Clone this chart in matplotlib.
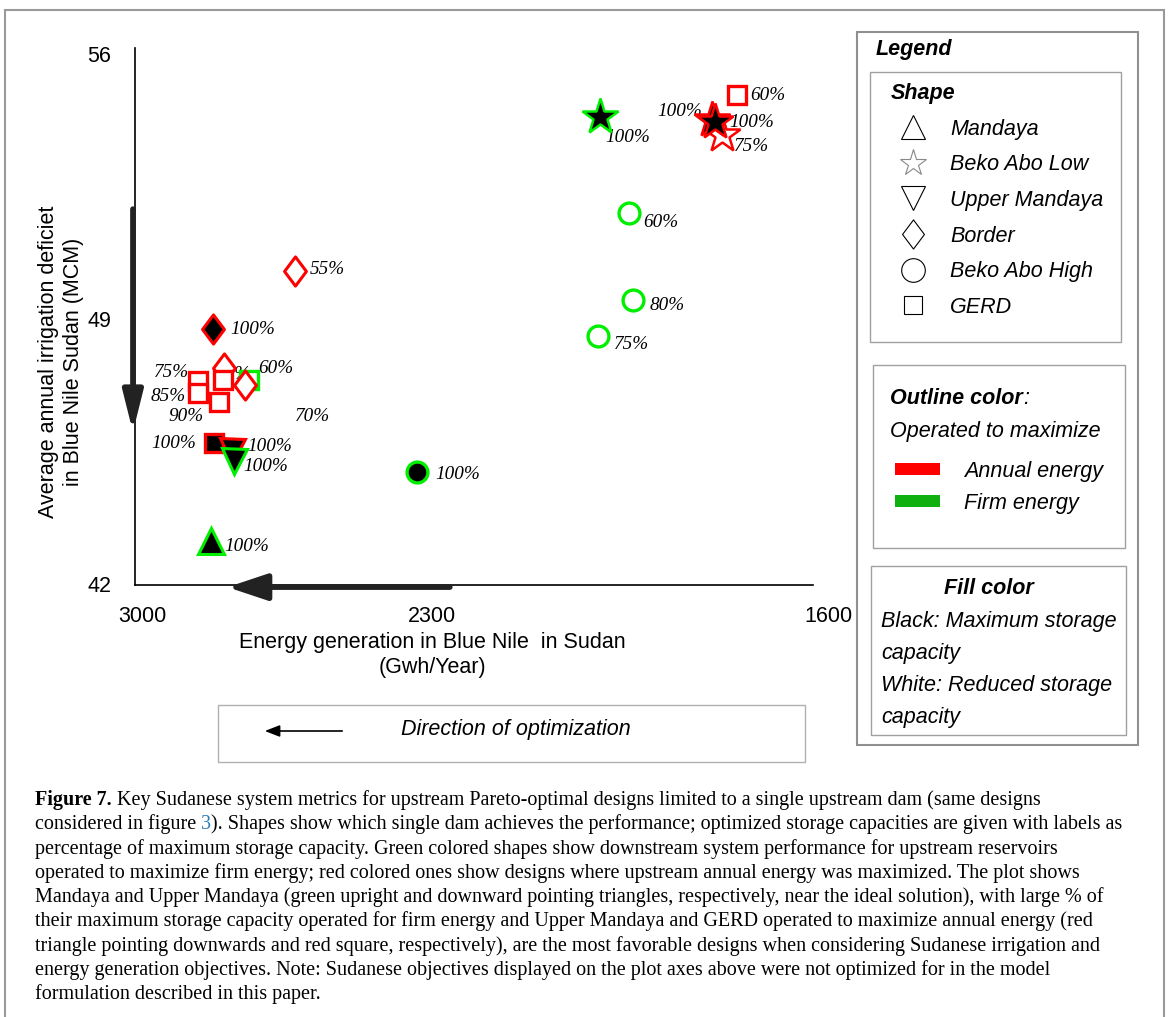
import matplotlib
matplotlib.use('Agg')
import matplotlib.pyplot as plt
from matplotlib.lines import Line2D
from matplotlib.patches import Rectangle, Patch, FancyArrowPatch
from matplotlib.path import Path

# designs: energy (GWh/yr), irrigation deficit (MCM), dam, operation, fill, storage label
energy  = [2040, 1788, 1809, 1802, 1757, 1980, 1972, 2044, 2418, 2670, 2839,
           2816, 2870, 2870, 2818, 2827, 2765, 2773, 2837, 2800, 2796, 2843]
deficit = [54.34, 53.86, 54.25, 54.20, 54.92, 51.80, 49.50, 48.55, 44.96, 50.27, 48.74,
           47.71, 47.36, 47.05, 47.39, 46.81, 47.39, 47.26, 45.73, 45.51, 45.25, 43.14]
dam     = ['BekoLow', 'BekoLow', 'BekoLow', 'BekoLow', 'GERD', 'BekoHigh', 'BekoHigh',
           'BekoHigh', 'BekoHigh', 'Border', 'Border', 'Border', 'GERD', 'GERD', 'GERD',
           'GERD', 'GERD', 'Border', 'GERD', 'UpperMandaya', 'UpperMandaya', 'Mandaya']
operated = ['firm', 'annual', 'annual', 'annual', 'annual', 'firm', 'firm', 'firm', 'firm',
            'annual', 'annual', 'annual', 'annual', 'annual', 'annual', 'annual', 'firm',
            'annual', 'annual', 'annual', 'firm', 'firm']
full    = [True, False, True, True, False, False, False, False, True, False, True,
           False, False, False, False, False, False, False, True, True, True, True]
pct     = ['100%', '75%', '100%', '100%', '60%', '60%', '80%', '75%', '100%', '55%', '100%',
           '80%', '75%', '85%', '70%', '90%', '60%', None, '100%', '100%', '100%', '100%']

# label offsets (points) and alignment
lab_off = [(3.6, -15), (8.6, -8), (-7, 6), (10, 0), (9.4, -0.7), (10, -6.5), (12.2, -3.6),
           (11.5, -5.8), (13, -2.2), (10.8, 0.7), (12.2, -0.7), (-6, -5), (-6.5, 5.8),
           (-8.6, -2.9), (52, -26.6), (-10.8, -10.8), (6.5, 7.9), (0, 0), (-13, -0.7),
           (10.8, 3.6), (6.5, -4.3), (9.4, -4.3)]
lab_ha = ['left', 'left', 'right', 'left', 'left', 'left', 'left', 'left', 'left', 'left',
          'left', 'left', 'right', 'right', 'left', 'right', 'left', 'left', 'right',
          'left', 'left', 'left']

shape_names = ['Mandaya', 'Beko Abo Low', 'Upper Mandaya', 'Border', 'Beko Abo High', 'GERD']
shape_keys = ['Mandaya', 'BekoLow', 'UpperMandaya', 'Border', 'BekoHigh', 'GERD']

diamond = Path([(0, 1), (0.75, 0), (0, -1), (-0.75, 0), (0, 1)],
               [Path.MOVETO, Path.LINETO, Path.LINETO, Path.LINETO, Path.CLOSEPOLY])
mk = {'Mandaya': '^', 'BekoLow': '*', 'UpperMandaya': 'v', 'Border': diamond,
      'BekoHigh': 'o', 'GERD': 's'}
ms = {'Mandaya': 19, 'BekoLow': 27, 'UpperMandaya': 18, 'Border': 21, 'BekoHigh': 15, 'GERD': 12.5}
mw = {'Mandaya': 2.2, 'BekoLow': 1.8, 'UpperMandaya': 2.2, 'Border': 2.2, 'BekoHigh': 2.4, 'GERD': 2.4}
col = {'annual': '#ff0000', 'firm': '#00ee00'}

W, H = 1168, 1017
fig = plt.figure(figsize=(W / 100, H / 100), dpi=100)


def fx(px):
    return px / W


def fy(py):
    return 1 - py / H


sans = 'Liberation Sans'
serif = 'Liberation Serif'

ax = fig.add_axes([fx(135), fy(585), (830 - 135) / W, (585 - 48) / H])
ax.set_xlim(3000, 1565)
ax.set_ylim(41.97, 56.16)
for s in ['top', 'right']:
    ax.spines[s].set_visible(False)
for s in ['left', 'bottom']:
    ax.spines[s].set_linewidth(1.2)
ax.spines['bottom'].set_bounds(3000, 1600)
ax.set_xticks([2985, 2387, 1569])
ax.set_xticklabels(['3000', '2300', '1600'])
ax.set_yticks([56, 49, 42])
ax.tick_params(length=0, labelsize=15.5)
ax.tick_params(axis='x', pad=15)
ax.tick_params(axis='y', pad=17)
for t in ax.get_xticklabels() + ax.get_yticklabels():
    t.set_fontfamily(sans)

for i in range(len(energy)):
    d = dam[i]
    ax.plot(energy[i], deficit[i], ls='none', marker=mk[d], ms=ms[d], mew=mw[d],
            mec=col[operated[i]], mfc='black' if full[i] else 'white',
            zorder=3 + i, clip_on=False)
    if pct[i]:
        ax.annotate(pct[i], (energy[i], deficit[i]), xytext=lab_off[i],
                    textcoords='offset points', ha=lab_ha[i], va='center',
                    fontsize=13.8, family=serif, style='italic', zorder=2)

# direction arrows on the axes
ax.annotate('', xy=(-0.003, 0.285), xytext=(-0.003, 0.70), xycoords='axes fraction',
            arrowprops=dict(arrowstyle='-|>,head_length=2.4,head_width=0.6', lw=4,
                            color='#222222', shrinkA=0, shrinkB=0), annotation_clip=False)
ax.annotate('', xy=(0.133, -0.004), xytext=(0.453, -0.004), xycoords='axes fraction',
            arrowprops=dict(arrowstyle='-|>,head_length=2.4,head_width=0.8', lw=4,
                            color='#222222', shrinkA=0, shrinkB=0), annotation_clip=False)

fig.text(fx(61), fy(362), 'Average annual irrigation deficiet\nin Blue Nile Sudan (MCM)',
         rotation=90, ha='center', va='center', fontsize=15.5, family=sans, linespacing=1.25)
fig.text(fx(432), fy(655), 'Energy generation in Blue Nile  in Sudan\n(Gwh/Year)',
         ha='center', va='center', fontsize=15.5, family=sans, linespacing=1.25)

# direction of optimization box
fig.add_artist(Rectangle((fx(218), fy(762)), fx(805 - 218), (762 - 705) / H,
                         transform=fig.transFigure, fill=False, ec='#b0b0b0', lw=1))
fig.add_artist(FancyArrowPatch((fx(345), fy(731)), (fx(262), fy(731)),
                               transform=fig.transFigure, mutation_scale=10, lw=1.2,
                               arrowstyle='-|>,head_length=0.9,head_width=0.35', color='black'))
fig.text(fx(516), fy(730), 'Direction of optimization', ha='center', va='center',
         fontsize=15.5, family=sans, style='italic')

# legend panel
def box(x0, y0, x1, y1, ec='#a0a0a0', lw=1.0):
    fig.add_artist(Rectangle((fx(x0), fy(y1)), fx(x1 - x0), (y1 - y0) / H,
                             transform=fig.transFigure, fill=False, ec=ec, lw=lw))


box(857, 32, 1138, 745, ec='#909090', lw=1.5)
box(870, 72, 1121, 342)
box(873, 365, 1125, 548)
box(871, 566, 1126, 735)

fig.text(fx(876), fy(49), 'Legend', ha='left', va='center', fontsize=15.5, family=sans,
         weight='bold', style='italic')

leg_ms = {'Mandaya': 17, 'BekoLow': 20, 'UpperMandaya': 17, 'Border': 21, 'BekoHigh': 17, 'GERD': 13}
handles = [Line2D([], [], ls='none', marker=mk[k], ms=leg_ms[k], mfc='white',
                  mec='#888888' if k == 'BekoLow' else 'black', mew=0.8) for k in shape_keys]
fig.legend(handles, shape_names, loc='upper left', bbox_to_anchor=(fx(891), fy(83)),
           frameon=False, title='Shape', alignment='left',
           prop=dict(family=sans, style='italic', size=15.5),
           title_fontproperties=dict(family=sans, weight='bold', style='italic', size=15.5),
           borderpad=0, borderaxespad=0, handlelength=2, handletextpad=0.75, labelspacing=0.68)

renderer = fig.canvas.get_renderer()


def pieces(x, y, parts, **kw):
    for s, extra in parts:
        t = fig.text(x, y, s, **{**kw, **extra})
        x += t.get_window_extent(renderer=renderer).width / W


pieces(fx(890), fy(399), [('Outline color', dict(weight='bold')), (':', {})],
       ha='left', va='center', fontsize=15.5, family=sans, style='italic')
fig.text(fx(890), fy(432), 'Operated to maximize', ha='left', va='center', fontsize=15.5,
         family=sans, style='italic')
fig.legend([Patch(fc='#ff0000', ec='none'), Patch(fc='#10b010', ec='none')],
           ['Annual energy', 'Firm energy'], loc='upper left',
           bbox_to_anchor=(fx(895), fy(461)), frameon=False,
           prop=dict(family=sans, style='italic', size=15.5), borderpad=0, borderaxespad=0,
           handlelength=2.1, handleheight=0.5, handletextpad=1.1, labelspacing=0.5)

fig.text(fx(989), fy(588), 'Fill color', ha='center', va='center', fontsize=15.5,
         family=sans, weight='bold', style='italic')
for txt, yy in [('Black: Maximum storage', 621), ('capacity', 653),
                ('White: Reduced storage', 686), ('capacity', 718)]:
    fig.text(fx(881), fy(yy), txt, ha='left', va='center', fontsize=15.5, family=sans,
             style='italic')

# outer frame
fig.add_artist(Rectangle((fx(5), fy(1030)), fx(1164 - 5), (1030 - 10) / H,
                         transform=fig.transFigure, fill=False, ec='#999999', lw=1.5))

# caption
cap = [
    [('Figure 7.', dict(weight='bold')),
     (' Key Sudanese system metrics for upstream Pareto-optimal designs limited to a single upstream dam (same designs', {})],
    [('considered in figure ', {}), ('3', dict(color='#2b7bb9')),
     ('). Shapes show which single dam achieves the performance; optimized storage capacities are given with labels as', {})],
    [('percentage of maximum storage capacity. Green colored shapes show downstream system performance for upstream reservoirs', {})],
    [('operated to maximize firm energy; red colored ones show designs where upstream annual energy was maximized. The plot shows', {})],
    [('Mandaya and Upper Mandaya (green upright and downward pointing triangles, respectively, near the ideal solution), with large % of', {})],
    [('their maximum storage capacity operated for firm energy and Upper Mandaya and GERD operated to maximize annual energy (red', {})],
    [('triangle pointing downwards and red square, respectively), are the most favorable designs when considering Sudanese irrigation and', {})],
    [('energy generation objectives. Note: Sudanese objectives displayed on the plot axes above were not optimized for in the model', {})],
    [('formulation described in this paper.', {})],
]
for k, line in enumerate(cap):
    pieces(fx(35), fy(800 + k * 24.3), line, ha='left', va='center', fontsize=14.52,
           family=serif)

fig.savefig('out.png', dpi=100)
